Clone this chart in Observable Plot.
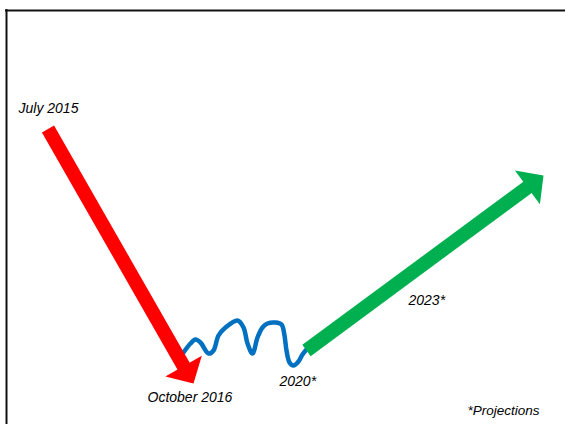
<!DOCTYPE html>
<html>
<head>
<meta charset="utf-8">
<script src="https://cdn.jsdelivr.net/npm/d3@7"></script>
<script src="https://cdn.jsdelivr.net/npm/@observablehq/plot@0.6"></script>
<style>
  html, body { margin: 0; padding: 0; background: #fff; }
</style>
</head>
<body>
<div id="chart"></div>
<script>
// Schematic coordinate space (x to the right, y downward)
const redFrom = [47.5, 128.5];
const redTo = [193, 383];
const greenFrom = [306, 350];
const greenTo = [543, 175];

const waveX = [183, 190, 195, 200, 208, 213, 218, 225, 237, 243, 247, 252, 257, 262, 267, 275, 281, 284, 286, 289, 293, 298, 302, 306];
const waveY = [352, 343, 339, 342, 353, 350, 335, 327, 320, 327, 343, 353, 337, 327, 323, 322, 324, 335, 350, 362, 365, 361, 354, 349];

const labels = ["July 2015", "October 2016", "2020*", "2023*", "*Projections"];
const labelX = [18, 147, 279, 408, 467];
const labelY = [108, 397.5, 381, 300.5, 410];
const labelSmall = [false, false, false, false, true];

const wave = waveX.map((x, i) => ({x, y: waveY[i]}));
const texts = labels.map((t, i) => ({t, x: labelX[i], y: labelY[i], small: labelSmall[i]}));

function arrowMarks(from, to, color) {
  const headLen = 20, headHalf = 21, shaftW = 14;
  const dx = to[0] - from[0], dy = to[1] - from[1];
  const L = Math.hypot(dx, dy);
  const ux = dx / L, uy = dy / L;
  const px = -uy, py = ux;
  const bx = to[0] - ux * headLen, by = to[1] - uy * headLen;
  const shaft = [{x: from[0], y: from[1]}, {x: bx + ux, y: by + uy}];
  const head = [
    {x: bx + px * headHalf, y: by + py * headHalf},
    {x: to[0], y: to[1]},
    {x: bx - px * headHalf, y: by - py * headHalf}
  ];
  return [
    Plot.line(shaft, {x: "x", y: "y", stroke: color, strokeWidth: shaftW, strokeLinecap: "butt"}),
    Plot.line(head, {x: "x", y: "y", fill: color, stroke: "none"})
  ];
}

const chart = Plot.plot({
  width: 565,
  height: 424,
  margin: 0,
  style: {fontFamily: "'Liberation Sans', Arial, sans-serif", background: "#fff"},
  x: {domain: [0, 565], range: [0, 565], axis: null},
  y: {domain: [0, 424], range: [0, 424], axis: null},
  marks: [
    Plot.ruleY([10], {x1: 5, x2: 565, stroke: "#111", strokeWidth: 2}),
    Plot.ruleX([6], {y1: 9, y2: 424, stroke: "#111", strokeWidth: 2}),
    Plot.line(wave, {x: "x", y: "y", stroke: "#0070C0", strokeWidth: 4.5, curve: "catmull-rom", strokeLinejoin: "round", strokeLinecap: "round"}),
    ...arrowMarks(redFrom, redTo, "#FF0000"),
    ...arrowMarks(greenFrom, greenTo, "#00B050"),
    Plot.text(texts.filter(d => !d.small), {x: "x", y: "y", text: "t", textAnchor: "start", fontSize: 14, fontStyle: "italic", fill: "#000"}),
    Plot.text(texts.filter(d => d.small), {x: "x", y: "y", text: "t", textAnchor: "start", fontSize: 13.5, fontStyle: "italic", fill: "#000"})
  ]
});
document.getElementById("chart").appendChild(chart);
</script>
</body>
</html>
